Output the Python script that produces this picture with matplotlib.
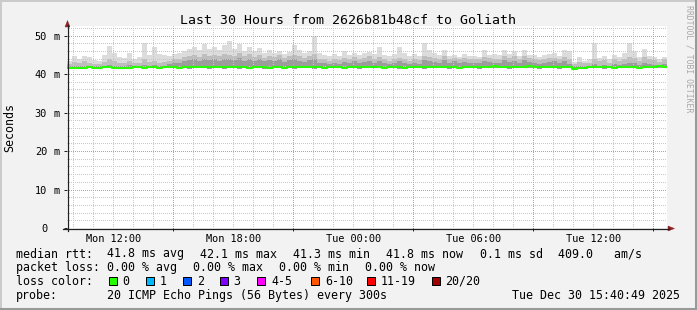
import matplotlib
matplotlib.use("Agg")
import matplotlib.pyplot as plt
import matplotlib.dates as mdates
import matplotlib.transforms as mtransforms
from matplotlib.patches import Rectangle, Polygon
from matplotlib.lines import Line2D
import numpy as np
import pandas as pd

plt.rcParams['font.family'] = ['DejaVu Sans Mono']

# ---------------- data ----------------
TITLE = "Last 30 Hours from 2626b81b48cf to Goliath"
START = "2025-12-29 09:40:49"
STEP = "15min"

median = [41.7, 41.7, 41.7, 41.7, 41.8, 41.7, 41.7, 41.8, 41.8, 41.7,
          41.7, 41.5, 41.7, 41.8, 41.8, 41.7, 41.8, 41.8, 41.7, 41.8,
          41.8, 41.8, 41.7, 41.8, 41.8, 41.8, 41.9, 41.8, 41.8, 41.9,
          41.8, 41.8, 41.9, 41.8, 41.8, 41.8, 41.7, 41.8, 41.8, 41.8,
          41.7, 41.8, 41.8, 41.7, 41.8, 41.8, 41.8, 41.8, 41.9, 41.8,
          41.8, 41.7, 41.8, 41.8, 41.8, 41.7, 41.8, 41.8, 41.8, 41.8,
          41.9, 41.8, 41.8, 41.7, 41.8, 41.8, 41.8, 41.7, 41.8, 41.8,
          41.8, 41.8, 41.9, 41.8, 41.8, 41.8, 41.8, 41.8, 41.7, 41.8,
          41.8, 41.8, 41.8, 41.8, 41.8, 42.0, 41.8, 41.8, 41.8, 41.8,
          41.8, 41.8, 42.0, 41.8, 41.8, 41.8, 41.8, 41.8, 41.8, 41.8,
          41.8, 41.4, 41.6, 41.7, 41.8, 41.8, 41.8, 41.8, 41.8, 41.7,
          41.8, 41.8, 41.8, 41.8, 41.5, 41.8, 41.8, 41.8, 42.0, 41.9]

smoke_min = [41.4, 41.5, 41.4, 41.5, 41.5, 41.4, 41.4, 41.5, 41.5, 41.4,
             41.4, 41.2, 41.4, 41.5, 41.5, 41.4, 41.5, 41.5, 41.4, 41.5,
             41.5, 41.5, 41.4, 41.5, 41.4, 41.5, 41.5, 41.5, 41.4, 41.5,
             41.5, 41.4, 41.5, 41.5, 41.4, 41.5, 41.4, 41.5, 41.5, 41.4,
             41.4, 41.5, 41.5, 41.4, 41.5, 41.4, 41.5, 41.5, 41.5, 41.4,
             41.5, 41.4, 41.5, 41.5, 41.5, 41.4, 41.5, 41.5, 41.4, 41.5,
             41.5, 41.5, 41.5, 41.4, 41.5, 41.5, 41.4, 41.4, 41.5, 41.5,
             41.5, 41.4, 41.5, 41.5, 41.5, 41.5, 41.4, 41.5, 41.4, 41.5,
             41.5, 41.5, 41.4, 41.5, 41.5, 41.6, 41.5, 41.5, 41.4, 41.5,
             41.5, 41.5, 41.6, 41.5, 41.4, 41.5, 41.5, 41.5, 41.4, 41.5,
             41.5, 41.1, 41.3, 41.4, 41.5, 41.5, 41.5, 41.4, 41.5, 41.4,
             41.5, 41.5, 41.5, 41.5, 41.2, 41.5, 41.5, 41.5, 41.6, 41.5]

smoke_dark = [42.0, 42.1, 42.0, 42.2, 42.1, 42.0, 42.0, 42.2, 42.4, 42.2,
              42.0, 42.1, 42.3, 42.0, 42.1, 42.4, 42.2, 42.3, 42.1, 42.2,
              42.6, 42.8, 43.0, 43.3, 43.6, 43.8, 43.4, 44.0, 43.6, 43.8,
              43.5, 44.0, 43.8, 43.6, 44.2, 43.5, 44.0, 43.4, 43.8, 43.3,
              43.6, 43.4, 43.8, 43.2, 43.6, 43.8, 43.5, 43.2, 43.6, 44.0,
              43.0, 42.8, 42.6, 43.0, 42.7, 43.2, 42.8, 43.4, 43.0, 43.2,
              43.5, 43.0, 43.4, 42.8, 42.6, 43.0, 43.3, 43.0, 42.6, 43.0,
              42.7, 43.6, 43.4, 43.2, 43.0, 43.6, 43.0, 43.3, 42.9, 43.2,
              42.8, 43.0, 42.9, 43.4, 43.2, 43.0, 42.8, 43.6, 43.2, 43.5,
              43.0, 43.6, 43.2, 42.8, 42.6, 43.0, 43.2, 43.3, 42.8, 43.4,
              42.6, 42.0, 42.1, 42.0, 42.1, 42.6, 42.2, 42.4, 42.1, 42.5,
              42.3, 42.6, 42.9, 42.8, 42.3, 42.9, 42.5, 42.4, 42.2, 42.5]

smoke_mid = [42.6, 43.2, 42.8, 43.5, 43.0, 42.6, 42.5, 43.2, 44.0, 43.5,
             42.8, 43.0, 43.5, 42.8, 43.0, 43.8, 43.2, 43.5, 43.0, 43.2,
             43.5, 43.8, 44.0, 44.5, 44.8, 45.0, 44.5, 45.2, 44.8, 45.0,
             44.6, 45.3, 45.0, 44.8, 45.5, 44.6, 45.2, 44.5, 45.0, 44.3,
             44.8, 44.5, 45.0, 44.3, 44.8, 45.0, 44.6, 44.2, 44.8, 45.3,
             44.0, 43.8, 43.5, 44.0, 43.6, 44.2, 43.8, 44.5, 44.0, 44.3,
             44.6, 44.0, 44.5, 43.8, 43.5, 44.0, 44.3, 44.0, 43.5, 44.0,
             43.6, 44.8, 44.5, 44.2, 44.0, 44.8, 44.0, 44.3, 43.8, 44.2,
             43.8, 44.0, 43.8, 44.5, 44.2, 44.0, 43.8, 44.8, 44.2, 44.6,
             44.0, 44.8, 44.2, 43.8, 43.6, 44.0, 44.2, 44.3, 43.8, 44.5,
             44.0, 42.6, 43.2, 42.8, 43.0, 44.0, 43.3, 43.6, 43.0, 43.8,
             43.5, 44.0, 44.5, 44.2, 43.5, 44.4, 43.8, 43.6, 43.2, 43.8]

smoke_max = [43.5, 44.6, 43.8, 44.8, 44.5, 43.6, 43.5, 45.0, 47.3, 45.5,
             44.4, 44.2, 45.6, 44.0, 44.5, 48.1, 45.0, 47.0, 45.2, 45.0,
             44.8, 45.2, 45.5, 46.0, 46.5, 47.0, 46.2, 47.8, 46.5, 47.0,
             46.2, 47.5, 48.7, 46.5, 47.8, 46.0, 47.0, 46.0, 46.8, 45.5,
             46.2, 45.5, 46.0, 45.2, 45.8, 47.6, 46.3, 45.5, 46.0, 49.8,
             45.5, 45.0, 44.6, 45.2, 44.8, 46.0, 45.0, 45.6, 45.0, 45.4,
             45.8, 45.2, 47.0, 45.0, 44.8, 45.2, 47.0, 45.5, 44.8, 45.2,
             44.6, 48.0, 46.3, 45.5, 45.0, 46.3, 44.8, 45.0, 44.5, 45.2,
             44.6, 44.8, 44.5, 46.3, 45.0, 45.3, 45.0, 46.3, 45.2, 46.0,
             44.8, 46.3, 45.0, 45.0, 44.5, 45.0, 45.2, 45.5, 44.8, 46.3,
             46.0, 43.2, 44.5, 43.5, 43.8, 48.1, 44.2, 44.8, 43.8, 45.0,
             44.5, 45.6, 48.1, 46.0, 44.5, 46.5, 44.8, 44.5, 44.0, 44.5]

yticks = [0, 10, 20, 30, 40, 50]
ytick_units = ["", "m", "m", "m", "m", "m"]
label_hours = [0, 6, 12, 18]
major_grid_hours = [3, 9, 15, 21]

rtt_label = "median rtt:"
rtt_stats = ["41.8 ms avg", "42.1 ms max", "41.3 ms min", "41.8 ms now",
             "0.1 ms sd", "409.0   am/s"]
loss_label = "packet loss:"
loss_stats = ["0.00 % avg", "0.00 % max", "0.00 % min", "0.00 % now"]
color_label = "loss color:"
loss_names = ["0", "1", "2", "3", "4-5", "6-10", "11-19", "20/20"]
loss_colors = ["#26ff00", "#00b8ff", "#0059ff", "#7e00ff", "#ff00ff",
               "#ff5500", "#ff0000", "#a10000"]
probe_label = "probe:"
probe_text = "20 ICMP Echo Pings (56 Bytes) every 300s"
stamp = "Tue Dec 30 15:40:49 2025"
credit = "RRDTOOL / TOBI OETIKER"

# ---------------- figure ----------------
W, H = 697, 310
fig = plt.figure(figsize=(W / 100, H / 100), dpi=100)
fig.patch.set_facecolor("#f2f2f2")
PX = mtransforms.Affine2D().scale(1 / W, -1 / H).translate(0, 1) + fig.transFigure

# outer shaded border
fig.add_artist(Line2D([0, W], [1, 1], transform=PX, color="#cbcbcb", lw=1.44))
fig.add_artist(Line2D([1, 1], [0, H], transform=PX, color="#cbcbcb", lw=1.44))
fig.add_artist(Line2D([0, W], [H - 1.5, H - 1.5], transform=PX, color="#999999", lw=2.2))
fig.add_artist(Line2D([W - 1.5, W - 1.5], [0, H], transform=PX, color="#999999", lw=2.2))

AX_L, AX_R, AX_T, AX_B = 67, 667, 26, 228
ax = fig.add_axes([AX_L / W, 1 - AX_B / H, (AX_R - AX_L) / W, (AX_B - AX_T) / H])
ax.set_facecolor("white")
for s in ax.spines.values():
    s.set_visible(False)

t = pd.date_range(START, periods=len(median) + 1, freq=STEP).to_pydatetime()
ext = lambda a: list(a) + [a[-1]]

ax.fill_between(t, ext(smoke_min), ext(smoke_max), step="post", color="#dcdcdc", lw=0, zorder=1)
ax.fill_between(t, ext(smoke_min), ext(smoke_mid), step="post", color="#bebebe", lw=0, zorder=1)
ax.fill_between(t, ext(smoke_min), ext(smoke_dark), step="post", color="#9c9c9c", lw=0, zorder=1)

ax.set_xlim(t[0], t[-1])
ax.set_ylim(0, 52.5)

# grid (dotted, 1px on / 1px off, phase shifted to land on whole pixels)
dot = (0.5, (1, 1))
xmin, xmax = mdates.date2num(t[0]), mdates.date2num(t[-1])
hour_of = lambda h: int(round(h * 24)) % 24
for h in mdates.HourLocator().tick_values(t[0], t[-1]):
    if xmin < h < xmax and hour_of(h) not in major_grid_hours:
        ax.axvline(h, color="#c8c8c8", lw=0.72, ls=dot, zorder=2, snap=True)
for v in np.arange(2, 53, 2):
    if v % 10:
        ax.axhline(v, color="#c8c8c8", lw=0.72, ls=dot, zorder=2, snap=True)
for h in mdates.HourLocator(byhour=major_grid_hours).tick_values(t[0], t[-1]):
    if xmin < h < xmax:
        ax.axvline(h, color="#f08c8c", lw=0.72, ls=dot, zorder=2.1, snap=True)
for v in yticks[1:]:
    ax.axhline(v, color="#f08c8c", lw=0.72, ls=dot, zorder=2.1, snap=True)

ax.step(t, ext(median), where="post", color="#26ff00", lw=1.5, zorder=3)

# ticks
ax.xaxis.set_major_locator(mdates.HourLocator(byhour=label_hours))
ax.xaxis.set_major_formatter(mdates.DateFormatter("%a %H:%M"))
ax.xaxis.set_minor_locator(mdates.HourLocator(byhour=major_grid_hours))
ax.tick_params(axis="x", which="major", length=0, pad=4.0, labelsize=7.4)
ax.tick_params(axis="x", which="minor", length=2.2, width=0.72, color="#202020", direction="out")
ax.set_yticks(yticks)
ax.tick_params(axis="y", length=2.2, width=0.72, color="#202020", direction="out", labelleft=False)
for v, u in zip(yticks, ytick_units):
    ax.text(-20 / 600, v, str(v), transform=ax.get_yaxis_transform(), ha="right",
            va="center_baseline", fontsize=7.4)
    if u:
        ax.text(-13 / 600, v, u, transform=ax.get_yaxis_transform(), ha="left",
                va="center_baseline", fontsize=7.4)

# axis lines + arrows
axis_col = "#202020"
arrow_col = "#8f1f1f"
fig.add_artist(Line2D([67.5, 67.5], [231, 25], transform=PX, color=axis_col, lw=0.9))
fig.add_artist(Line2D([63, 669], [228.5, 228.5], transform=PX, color=axis_col, lw=0.9))
fig.add_artist(Polygon([(65, 27), (70, 27), (67.5, 20.5)], closed=True, transform=PX,
                       facecolor=arrow_col, edgecolor=arrow_col, lw=0.3))
fig.add_artist(Polygon([(668, 226), (668, 231), (674.5, 228.5)], closed=True, transform=PX,
                       facecolor=arrow_col, edgecolor=arrow_col, lw=0.3))

# texts
fig.text(347.5, 24, TITLE, transform=PX, ha="center", va="baseline", fontsize=9.5)
fig.text(10, 128, "Seconds", transform=PX, ha="center", va="center", rotation=90, fontsize=8.4)
fig.text(688.5, 5, credit, transform=PX, ha="center", va="top", rotation=270,
         fontsize=5.9, color="#a8a8a8")

FS = 8.4
rows_y = [257.5, 271.3, 285.0, 298.8]
fig.text(16, rows_y[0], rtt_label, transform=PX, fontsize=FS, va="baseline")
for x, s in zip([107, 200, 293, 386, 479.5, 558], rtt_stats):
    fig.text(x, rows_y[0], s, transform=PX, fontsize=FS, va="baseline")
fig.text(16, rows_y[1], loss_label, transform=PX, fontsize=FS, va="baseline")
for x, s in zip([107, 193, 279, 365], loss_stats):
    fig.text(x, rows_y[1], s, transform=PX, fontsize=FS, va="baseline")
fig.text(16, rows_y[2], color_label, transform=PX, fontsize=FS, va="baseline")
for x, s, c in zip([108, 145.5, 182.5, 219, 256.5, 310.5, 366.5, 431], loss_names, loss_colors):
    fig.add_artist(Rectangle((x + 0.5, 277), 8, 8, transform=PX, facecolor=c,
                             edgecolor="black", lw=0.72))
    fig.text(x + 14.5, rows_y[2], s, transform=PX, fontsize=FS, va="baseline")
fig.text(16, rows_y[3], probe_label, transform=PX, fontsize=FS, va="baseline")
fig.text(107, rows_y[3], probe_text, transform=PX, fontsize=FS, va="baseline")
fig.text(680, rows_y[3], stamp, transform=PX, fontsize=FS, va="baseline", ha="right")

fig.savefig("out.png", dpi=100, facecolor=fig.get_facecolor())
